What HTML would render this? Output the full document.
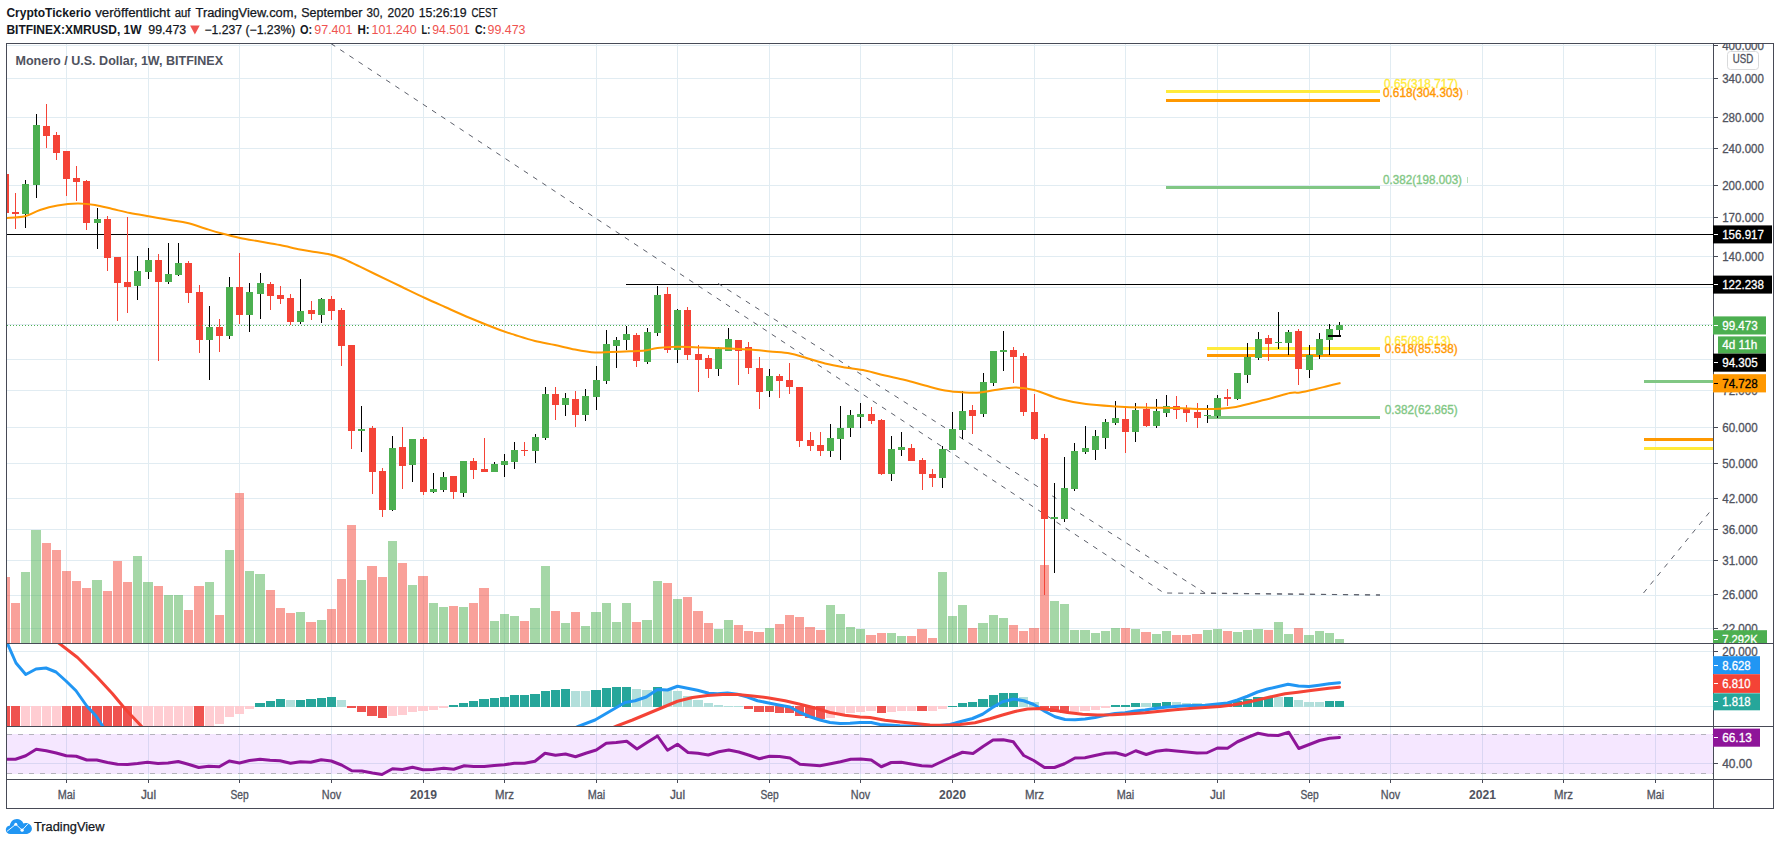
<!DOCTYPE html>
<html lang="de"><head><meta charset="utf-8"><title>XMRUSD 1W – TradingView</title>
<style>html,body{margin:0;padding:0;background:#fff}svg{display:block}</style></head>
<body>
<svg width="1780" height="845" viewBox="0 0 1780 845" font-family='"Liberation Sans", sans-serif'>
<rect width="1780" height="845" fill="#fff"/>
<defs>
<clipPath id="cm"><rect x="7" y="44" width="1706" height="599"/></clipPath>
<clipPath id="cd"><rect x="7" y="644" width="1706" height="82"/></clipPath>
<clipPath id="cr"><rect x="7" y="727" width="1706" height="52"/></clipPath>
<clipPath id="ca"><rect x="1713" y="44" width="59" height="599"/></clipPath>
<clipPath id="ca2"><rect x="1713" y="644" width="59" height="82"/></clipPath>
</defs>
<text x="6.4" y="16.9" font-size="12" fill="#131722" font-weight="bold" textLength="84.6" lengthAdjust="spacingAndGlyphs">CryptoTickerio</text>
<text x="95.2" y="16.9" font-size="12" fill="#131722" stroke="#131722" stroke-width="0.25" textLength="75.0" lengthAdjust="spacingAndGlyphs">veröffentlicht</text>
<text x="174.8" y="16.9" font-size="12" fill="#131722" stroke="#131722" stroke-width="0.25" textLength="15.7" lengthAdjust="spacingAndGlyphs">auf</text>
<text x="195.5" y="16.9" font-size="12" fill="#131722" stroke="#131722" stroke-width="0.25" textLength="101.5" lengthAdjust="spacingAndGlyphs">TradingView.com,</text>
<text x="301.3" y="16.9" font-size="12" fill="#131722" stroke="#131722" stroke-width="0.25" textLength="61.0" lengthAdjust="spacingAndGlyphs">September</text>
<text x="366.5" y="16.9" font-size="12" fill="#131722" stroke="#131722" stroke-width="0.25" textLength="16.2" lengthAdjust="spacingAndGlyphs">30,</text>
<text x="387.6" y="16.9" font-size="12" fill="#131722" stroke="#131722" stroke-width="0.25" textLength="26.6" lengthAdjust="spacingAndGlyphs">2020</text>
<text x="418.8" y="16.9" font-size="12" fill="#131722" stroke="#131722" stroke-width="0.25" textLength="47.7" lengthAdjust="spacingAndGlyphs">15:26:19</text>
<text x="471.5" y="16.9" font-size="12" fill="#131722" stroke="#131722" stroke-width="0.25" textLength="25.8" lengthAdjust="spacingAndGlyphs">CEST</text>
<text x="6.4" y="33.7" font-size="12" fill="#131722" font-weight="bold" textLength="135.2" lengthAdjust="spacingAndGlyphs">BITFINEX:XMRUSD, 1W</text>
<text x="148.3" y="33.7" font-size="12" fill="#131722" stroke="#131722" stroke-width="0.25" textLength="37.9" lengthAdjust="spacingAndGlyphs">99.473</text>
<path d="M190.1 25.6h9.6l-4.8 9z" fill="#ef5350"/>
<text x="204.4" y="33.7" font-size="12" fill="#131722" stroke="#131722" stroke-width="0.25" textLength="91" lengthAdjust="spacingAndGlyphs">−1.237 (−1.23%)</text>
<text x="300" y="33.7" font-size="12" fill="#131722" font-weight="bold" textLength="12.2" lengthAdjust="spacingAndGlyphs">O:</text>
<text x="314.3" y="33.7" font-size="12" fill="#ef5350" textLength="38.1" lengthAdjust="spacingAndGlyphs">97.401</text>
<text x="357.4" y="33.7" font-size="12" fill="#131722" font-weight="bold" textLength="12.2" lengthAdjust="spacingAndGlyphs">H:</text>
<text x="371.6" y="33.7" font-size="12" fill="#ef5350" textLength="45.1" lengthAdjust="spacingAndGlyphs">101.240</text>
<text x="421.5" y="33.7" font-size="12" fill="#131722" font-weight="bold" textLength="8.7" lengthAdjust="spacingAndGlyphs">L:</text>
<text x="432.3" y="33.7" font-size="12" fill="#ef5350" textLength="37.5" lengthAdjust="spacingAndGlyphs">94.501</text>
<text x="474.9" y="33.7" font-size="12" fill="#131722" font-weight="bold" textLength="11" lengthAdjust="spacingAndGlyphs">C:</text>
<text x="487.5" y="33.7" font-size="12" fill="#ef5350" textLength="38" lengthAdjust="spacingAndGlyphs">99.473</text>
<g shape-rendering="crispEdges">
<rect x="7" y="45" width="1706" height="1" fill="#e1ecf2"/>
<rect x="7" y="78" width="1706" height="1" fill="#e1ecf2"/>
<rect x="7" y="117" width="1706" height="1" fill="#e1ecf2"/>
<rect x="7" y="148" width="1706" height="1" fill="#e1ecf2"/>
<rect x="7" y="185" width="1706" height="1" fill="#e1ecf2"/>
<rect x="7" y="217" width="1706" height="1" fill="#e1ecf2"/>
<rect x="7" y="256" width="1706" height="1" fill="#e1ecf2"/>
<rect x="7" y="287" width="1706" height="1" fill="#e1ecf2"/>
<rect x="7" y="324" width="1706" height="1" fill="#e1ecf2"/>
<rect x="7" y="359" width="1706" height="1" fill="#e1ecf2"/>
<rect x="7" y="390" width="1706" height="1" fill="#e1ecf2"/>
<rect x="7" y="427" width="1706" height="1" fill="#e1ecf2"/>
<rect x="7" y="463" width="1706" height="1" fill="#e1ecf2"/>
<rect x="7" y="498" width="1706" height="1" fill="#e1ecf2"/>
<rect x="7" y="529" width="1706" height="1" fill="#e1ecf2"/>
<rect x="7" y="560" width="1706" height="1" fill="#e1ecf2"/>
<rect x="7" y="595" width="1706" height="1" fill="#e1ecf2"/>
<rect x="7" y="628" width="1706" height="1" fill="#e1ecf2"/>
<rect x="7" y="651" width="1706" height="1" fill="#e1ecf2"/>
<rect x="7" y="706" width="1706" height="1" fill="#e1ecf2"/>
<rect x="7" y="763" width="1706" height="1" fill="#e1ecf2"/>
<rect x="66" y="44" width="1" height="735" fill="#e1ecf2"/>
<rect x="148" y="44" width="1" height="735" fill="#e1ecf2"/>
<rect x="239" y="44" width="1" height="735" fill="#e1ecf2"/>
<rect x="331" y="44" width="1" height="735" fill="#e1ecf2"/>
<rect x="423" y="44" width="1" height="735" fill="#e1ecf2"/>
<rect x="504" y="44" width="1" height="735" fill="#e1ecf2"/>
<rect x="596" y="44" width="1" height="735" fill="#e1ecf2"/>
<rect x="677" y="44" width="1" height="735" fill="#e1ecf2"/>
<rect x="769" y="44" width="1" height="735" fill="#e1ecf2"/>
<rect x="860" y="44" width="1" height="735" fill="#e1ecf2"/>
<rect x="952" y="44" width="1" height="735" fill="#e1ecf2"/>
<rect x="1034" y="44" width="1" height="735" fill="#e1ecf2"/>
<rect x="1125" y="44" width="1" height="735" fill="#e1ecf2"/>
<rect x="1217" y="44" width="1" height="735" fill="#e1ecf2"/>
<rect x="1309" y="44" width="1" height="735" fill="#e1ecf2"/>
<rect x="1390" y="44" width="1" height="735" fill="#e1ecf2"/>
<rect x="1482" y="44" width="1" height="735" fill="#e1ecf2"/>
<rect x="1563" y="44" width="1" height="735" fill="#e1ecf2"/>
<rect x="1655" y="44" width="1" height="735" fill="#e1ecf2"/>
</g>
<rect x="7" y="734" width="1706" height="40" fill="#9915ff" fill-opacity="0.1"/>
<g stroke="#b4b2bc" stroke-width="1" stroke-dasharray="5 6" shape-rendering="crispEdges">
<line x1="7" y1="734.5" x2="1713" y2="734.5"/><line x1="7" y1="773.5" x2="1713" y2="773.5"/></g>
<g clip-path="url(#cm)">
<g shape-rendering="crispEdges" fill-opacity="0.5">
<rect x="1" y="577" width="9" height="66" fill="#f44336"/>
<rect x="11" y="603" width="9" height="40" fill="#f44336"/>
<rect x="21" y="572" width="9" height="71" fill="#4caf50"/>
<rect x="31" y="530" width="10" height="113" fill="#4caf50"/>
<rect x="42" y="543" width="9" height="100" fill="#f44336"/>
<rect x="52" y="550" width="9" height="93" fill="#f44336"/>
<rect x="62" y="571" width="9" height="72" fill="#f44336"/>
<rect x="72" y="581" width="9" height="62" fill="#f44336"/>
<rect x="82" y="588" width="9" height="55" fill="#f44336"/>
<rect x="92" y="580" width="10" height="63" fill="#4caf50"/>
<rect x="103" y="591" width="9" height="52" fill="#f44336"/>
<rect x="113" y="561" width="9" height="82" fill="#f44336"/>
<rect x="123" y="582" width="9" height="61" fill="#f44336"/>
<rect x="133" y="556" width="9" height="87" fill="#4caf50"/>
<rect x="143" y="582" width="10" height="61" fill="#4caf50"/>
<rect x="154" y="586" width="9" height="57" fill="#f44336"/>
<rect x="164" y="595" width="9" height="48" fill="#4caf50"/>
<rect x="174" y="595" width="9" height="48" fill="#4caf50"/>
<rect x="184" y="610" width="9" height="33" fill="#f44336"/>
<rect x="194" y="586" width="10" height="57" fill="#f44336"/>
<rect x="205" y="582" width="9" height="61" fill="#4caf50"/>
<rect x="215" y="615" width="9" height="28" fill="#f44336"/>
<rect x="225" y="550" width="9" height="93" fill="#4caf50"/>
<rect x="235" y="493" width="9" height="150" fill="#f44336"/>
<rect x="245" y="571" width="9" height="72" fill="#4caf50"/>
<rect x="255" y="574" width="10" height="69" fill="#4caf50"/>
<rect x="266" y="590" width="9" height="53" fill="#f44336"/>
<rect x="276" y="608" width="9" height="35" fill="#f44336"/>
<rect x="286" y="613" width="9" height="30" fill="#f44336"/>
<rect x="296" y="612" width="9" height="31" fill="#4caf50"/>
<rect x="306" y="622" width="10" height="21" fill="#f44336"/>
<rect x="317" y="620" width="9" height="23" fill="#4caf50"/>
<rect x="327" y="609" width="9" height="34" fill="#f44336"/>
<rect x="337" y="579" width="9" height="64" fill="#f44336"/>
<rect x="347" y="525" width="9" height="118" fill="#f44336"/>
<rect x="357" y="580" width="9" height="63" fill="#4caf50"/>
<rect x="367" y="566" width="10" height="77" fill="#f44336"/>
<rect x="378" y="577" width="9" height="66" fill="#f44336"/>
<rect x="388" y="541" width="9" height="102" fill="#4caf50"/>
<rect x="398" y="563" width="9" height="80" fill="#f44336"/>
<rect x="408" y="585" width="9" height="58" fill="#4caf50"/>
<rect x="418" y="576" width="10" height="67" fill="#f44336"/>
<rect x="429" y="603" width="9" height="40" fill="#4caf50"/>
<rect x="439" y="607" width="9" height="36" fill="#4caf50"/>
<rect x="449" y="606" width="9" height="37" fill="#f44336"/>
<rect x="459" y="607" width="9" height="36" fill="#4caf50"/>
<rect x="469" y="603" width="9" height="40" fill="#f44336"/>
<rect x="479" y="588" width="10" height="55" fill="#f44336"/>
<rect x="490" y="621" width="9" height="22" fill="#4caf50"/>
<rect x="500" y="614" width="9" height="29" fill="#4caf50"/>
<rect x="510" y="616" width="9" height="27" fill="#4caf50"/>
<rect x="520" y="621" width="9" height="22" fill="#f44336"/>
<rect x="530" y="608" width="10" height="35" fill="#4caf50"/>
<rect x="541" y="566" width="9" height="77" fill="#4caf50"/>
<rect x="551" y="611" width="9" height="32" fill="#f44336"/>
<rect x="561" y="623" width="9" height="20" fill="#4caf50"/>
<rect x="571" y="612" width="9" height="31" fill="#f44336"/>
<rect x="581" y="626" width="9" height="17" fill="#4caf50"/>
<rect x="591" y="612" width="10" height="31" fill="#4caf50"/>
<rect x="602" y="603" width="9" height="40" fill="#4caf50"/>
<rect x="612" y="622" width="9" height="21" fill="#4caf50"/>
<rect x="622" y="603" width="9" height="40" fill="#4caf50"/>
<rect x="632" y="622" width="9" height="21" fill="#f44336"/>
<rect x="642" y="620" width="10" height="23" fill="#4caf50"/>
<rect x="653" y="581" width="9" height="62" fill="#4caf50"/>
<rect x="663" y="583" width="9" height="60" fill="#f44336"/>
<rect x="673" y="599" width="9" height="44" fill="#4caf50"/>
<rect x="683" y="597" width="9" height="46" fill="#f44336"/>
<rect x="693" y="611" width="10" height="32" fill="#f44336"/>
<rect x="704" y="623" width="9" height="20" fill="#f44336"/>
<rect x="714" y="629" width="9" height="14" fill="#4caf50"/>
<rect x="724" y="620" width="9" height="23" fill="#4caf50"/>
<rect x="734" y="625" width="9" height="18" fill="#f44336"/>
<rect x="744" y="631" width="9" height="12" fill="#f44336"/>
<rect x="754" y="632" width="10" height="11" fill="#f44336"/>
<rect x="765" y="628" width="9" height="15" fill="#4caf50"/>
<rect x="775" y="624" width="9" height="19" fill="#f44336"/>
<rect x="785" y="615" width="9" height="28" fill="#f44336"/>
<rect x="795" y="617" width="9" height="26" fill="#f44336"/>
<rect x="805" y="627" width="10" height="16" fill="#f44336"/>
<rect x="816" y="630" width="9" height="13" fill="#f44336"/>
<rect x="826" y="605" width="9" height="38" fill="#4caf50"/>
<rect x="836" y="614" width="9" height="29" fill="#4caf50"/>
<rect x="846" y="627" width="9" height="16" fill="#4caf50"/>
<rect x="856" y="629" width="9" height="14" fill="#4caf50"/>
<rect x="866" y="635" width="10" height="8" fill="#f44336"/>
<rect x="877" y="633" width="9" height="10" fill="#f44336"/>
<rect x="887" y="633" width="9" height="10" fill="#4caf50"/>
<rect x="897" y="636" width="9" height="7" fill="#4caf50"/>
<rect x="907" y="636" width="9" height="7" fill="#f44336"/>
<rect x="917" y="629" width="10" height="14" fill="#f44336"/>
<rect x="928" y="638" width="9" height="5" fill="#f44336"/>
<rect x="938" y="572" width="9" height="71" fill="#4caf50"/>
<rect x="948" y="616" width="9" height="27" fill="#4caf50"/>
<rect x="958" y="605" width="9" height="38" fill="#4caf50"/>
<rect x="968" y="628" width="9" height="15" fill="#f44336"/>
<rect x="978" y="623" width="10" height="20" fill="#4caf50"/>
<rect x="989" y="615" width="9" height="28" fill="#4caf50"/>
<rect x="999" y="618" width="9" height="25" fill="#4caf50"/>
<rect x="1009" y="625" width="9" height="18" fill="#f44336"/>
<rect x="1019" y="631" width="9" height="12" fill="#f44336"/>
<rect x="1029" y="628" width="10" height="15" fill="#f44336"/>
<rect x="1040" y="565" width="9" height="78" fill="#f44336"/>
<rect x="1050" y="601" width="9" height="42" fill="#4caf50"/>
<rect x="1060" y="604" width="9" height="39" fill="#4caf50"/>
<rect x="1070" y="630" width="9" height="13" fill="#4caf50"/>
<rect x="1080" y="630" width="10" height="13" fill="#4caf50"/>
<rect x="1091" y="633" width="9" height="10" fill="#4caf50"/>
<rect x="1101" y="631" width="9" height="12" fill="#4caf50"/>
<rect x="1111" y="628" width="9" height="15" fill="#4caf50"/>
<rect x="1121" y="628" width="9" height="15" fill="#f44336"/>
<rect x="1131" y="629" width="9" height="14" fill="#4caf50"/>
<rect x="1141" y="632" width="10" height="11" fill="#f44336"/>
<rect x="1152" y="634" width="9" height="9" fill="#4caf50"/>
<rect x="1162" y="631" width="9" height="12" fill="#4caf50"/>
<rect x="1172" y="635" width="9" height="8" fill="#f44336"/>
<rect x="1182" y="635" width="9" height="8" fill="#f44336"/>
<rect x="1192" y="634" width="10" height="9" fill="#f44336"/>
<rect x="1203" y="630" width="9" height="13" fill="#4caf50"/>
<rect x="1213" y="629" width="9" height="14" fill="#4caf50"/>
<rect x="1223" y="631" width="9" height="12" fill="#f44336"/>
<rect x="1233" y="632" width="9" height="11" fill="#4caf50"/>
<rect x="1243" y="630" width="9" height="13" fill="#4caf50"/>
<rect x="1253" y="629" width="10" height="14" fill="#4caf50"/>
<rect x="1264" y="630" width="9" height="13" fill="#f44336"/>
<rect x="1274" y="622" width="9" height="21" fill="#4caf50"/>
<rect x="1284" y="634" width="9" height="9" fill="#4caf50"/>
<rect x="1294" y="628" width="9" height="15" fill="#f44336"/>
<rect x="1304" y="635" width="10" height="8" fill="#4caf50"/>
<rect x="1315" y="631" width="9" height="12" fill="#4caf50"/>
<rect x="1325" y="633" width="9" height="10" fill="#4caf50"/>
<rect x="1335" y="639" width="9" height="4" fill="#4caf50"/>
</g>
<g shape-rendering="crispEdges">
<rect x="1166" y="90" width="214" height="3" fill="#ffeb3b"/>
<rect x="1166" y="99" width="214" height="3" fill="#ff9800"/>
<rect x="1166" y="186" width="214" height="3" fill="#81c784"/>
<rect x="1207" y="347" width="173" height="3" fill="#ffeb3b"/>
<rect x="1207" y="354" width="173" height="3" fill="#ff9800"/>
<rect x="1207" y="416" width="173" height="3" fill="#81c784"/>
<rect x="1644" y="380" width="69" height="3" fill="#81c784"/>
<rect x="1644" y="438" width="69" height="3" fill="#ff9800"/>
<rect x="1644" y="447" width="69" height="3" fill="#ffeb3b"/>
</g>
<g shape-rendering="crispEdges">
<rect x="7" y="234" width="1706" height="1" fill="#000"/>
<rect x="626" y="284" width="1087" height="1" fill="#000"/>
</g>
<g stroke="#5d606b" stroke-width="1" stroke-dasharray="5 6" fill="none">
<path d="M331 43.6L1164 593L1380 595"/>
<path d="M718 283.4L1205 593L1380 595"/>
<path d="M1643.5 593L1711 510.4"/>
</g>
<g shape-rendering="crispEdges">
<rect x="5" y="174" width="1" height="39" fill="#f44336"/>
<rect x="2" y="174" width="7" height="39" fill="#f44336"/>
<rect x="15" y="193" width="1" height="36" fill="#f44336"/>
<rect x="12" y="212" width="7" height="2" fill="#f44336"/>
<rect x="25" y="180" width="1" height="48" fill="#000"/>
<rect x="22" y="184" width="7" height="30" fill="#4caf50"/>
<rect x="36" y="114" width="1" height="84" fill="#000"/>
<rect x="33" y="125" width="7" height="60" fill="#4caf50"/>
<rect x="46" y="104" width="1" height="44" fill="#f44336"/>
<rect x="43" y="126" width="7" height="10" fill="#f44336"/>
<rect x="56" y="132" width="1" height="28" fill="#f44336"/>
<rect x="53" y="135" width="7" height="18" fill="#f44336"/>
<rect x="66" y="151" width="1" height="45" fill="#f44336"/>
<rect x="63" y="151" width="7" height="28" fill="#f44336"/>
<rect x="76" y="166" width="1" height="35" fill="#f44336"/>
<rect x="73" y="178" width="7" height="4" fill="#f44336"/>
<rect x="86" y="180" width="1" height="50" fill="#f44336"/>
<rect x="83" y="181" width="7" height="42" fill="#f44336"/>
<rect x="97" y="208" width="1" height="41" fill="#000"/>
<rect x="94" y="219" width="7" height="4" fill="#4caf50"/>
<rect x="107" y="216" width="1" height="55" fill="#f44336"/>
<rect x="104" y="219" width="7" height="39" fill="#f44336"/>
<rect x="117" y="257" width="1" height="64" fill="#f44336"/>
<rect x="114" y="257" width="7" height="26" fill="#f44336"/>
<rect x="127" y="217" width="1" height="96" fill="#f44336"/>
<rect x="124" y="282" width="7" height="5" fill="#f44336"/>
<rect x="137" y="256" width="1" height="44" fill="#000"/>
<rect x="134" y="271" width="7" height="15" fill="#4caf50"/>
<rect x="148" y="248" width="1" height="31" fill="#000"/>
<rect x="145" y="260" width="7" height="12" fill="#4caf50"/>
<rect x="158" y="254" width="1" height="107" fill="#f44336"/>
<rect x="155" y="260" width="7" height="22" fill="#f44336"/>
<rect x="168" y="243" width="1" height="41" fill="#000"/>
<rect x="165" y="274" width="7" height="8" fill="#4caf50"/>
<rect x="178" y="243" width="1" height="33" fill="#000"/>
<rect x="175" y="263" width="7" height="12" fill="#4caf50"/>
<rect x="188" y="261" width="1" height="42" fill="#f44336"/>
<rect x="185" y="263" width="7" height="30" fill="#f44336"/>
<rect x="199" y="285" width="1" height="68" fill="#f44336"/>
<rect x="196" y="292" width="7" height="48" fill="#f44336"/>
<rect x="209" y="306" width="1" height="74" fill="#000"/>
<rect x="206" y="327" width="7" height="13" fill="#4caf50"/>
<rect x="219" y="319" width="1" height="33" fill="#f44336"/>
<rect x="216" y="327" width="7" height="9" fill="#f44336"/>
<rect x="229" y="277" width="1" height="62" fill="#000"/>
<rect x="226" y="287" width="7" height="49" fill="#4caf50"/>
<rect x="239" y="253" width="1" height="71" fill="#f44336"/>
<rect x="236" y="287" width="7" height="28" fill="#f44336"/>
<rect x="249" y="283" width="1" height="49" fill="#000"/>
<rect x="246" y="292" width="7" height="23" fill="#4caf50"/>
<rect x="260" y="273" width="1" height="46" fill="#000"/>
<rect x="257" y="283" width="7" height="11" fill="#4caf50"/>
<rect x="270" y="282" width="1" height="28" fill="#f44336"/>
<rect x="267" y="284" width="7" height="12" fill="#f44336"/>
<rect x="280" y="286" width="1" height="18" fill="#f44336"/>
<rect x="277" y="295" width="7" height="4" fill="#f44336"/>
<rect x="290" y="294" width="1" height="31" fill="#f44336"/>
<rect x="287" y="298" width="7" height="24" fill="#f44336"/>
<rect x="300" y="279" width="1" height="45" fill="#000"/>
<rect x="297" y="311" width="7" height="11" fill="#4caf50"/>
<rect x="311" y="301" width="1" height="19" fill="#f44336"/>
<rect x="308" y="310" width="7" height="4" fill="#f44336"/>
<rect x="321" y="298" width="1" height="25" fill="#000"/>
<rect x="318" y="299" width="7" height="16" fill="#4caf50"/>
<rect x="331" y="296" width="1" height="24" fill="#f44336"/>
<rect x="328" y="299" width="7" height="12" fill="#f44336"/>
<rect x="341" y="308" width="1" height="58" fill="#f44336"/>
<rect x="338" y="310" width="7" height="36" fill="#f44336"/>
<rect x="351" y="345" width="1" height="104" fill="#f44336"/>
<rect x="348" y="345" width="7" height="86" fill="#f44336"/>
<rect x="361" y="406" width="1" height="46" fill="#000"/>
<rect x="358" y="429" width="7" height="2" fill="#4caf50"/>
<rect x="372" y="426" width="1" height="68" fill="#f44336"/>
<rect x="369" y="428" width="7" height="44" fill="#f44336"/>
<rect x="382" y="468" width="1" height="49" fill="#f44336"/>
<rect x="379" y="471" width="7" height="39" fill="#f44336"/>
<rect x="392" y="436" width="1" height="75" fill="#000"/>
<rect x="389" y="448" width="7" height="62" fill="#4caf50"/>
<rect x="402" y="427" width="1" height="62" fill="#f44336"/>
<rect x="399" y="447" width="7" height="19" fill="#f44336"/>
<rect x="412" y="439" width="1" height="43" fill="#000"/>
<rect x="409" y="439" width="7" height="26" fill="#4caf50"/>
<rect x="423" y="437" width="1" height="58" fill="#f44336"/>
<rect x="420" y="439" width="7" height="53" fill="#f44336"/>
<rect x="433" y="473" width="1" height="20" fill="#000"/>
<rect x="430" y="489" width="7" height="3" fill="#4caf50"/>
<rect x="443" y="472" width="1" height="20" fill="#000"/>
<rect x="440" y="477" width="7" height="13" fill="#4caf50"/>
<rect x="453" y="476" width="1" height="23" fill="#f44336"/>
<rect x="450" y="476" width="7" height="16" fill="#f44336"/>
<rect x="463" y="461" width="1" height="36" fill="#000"/>
<rect x="460" y="461" width="7" height="32" fill="#4caf50"/>
<rect x="473" y="458" width="1" height="21" fill="#f44336"/>
<rect x="470" y="461" width="7" height="9" fill="#f44336"/>
<rect x="484" y="438" width="1" height="34" fill="#f44336"/>
<rect x="481" y="469" width="7" height="3" fill="#f44336"/>
<rect x="494" y="462" width="1" height="10" fill="#000"/>
<rect x="491" y="464" width="7" height="8" fill="#4caf50"/>
<rect x="504" y="454" width="1" height="23" fill="#000"/>
<rect x="501" y="461" width="7" height="4" fill="#4caf50"/>
<rect x="514" y="442" width="1" height="27" fill="#000"/>
<rect x="511" y="450" width="7" height="12" fill="#4caf50"/>
<rect x="524" y="442" width="1" height="14" fill="#f44336"/>
<rect x="521" y="450" width="7" height="1" fill="#f44336"/>
<rect x="535" y="434" width="1" height="29" fill="#000"/>
<rect x="532" y="437" width="7" height="14" fill="#4caf50"/>
<rect x="545" y="387" width="1" height="53" fill="#000"/>
<rect x="542" y="394" width="7" height="44" fill="#4caf50"/>
<rect x="555" y="387" width="1" height="33" fill="#f44336"/>
<rect x="552" y="394" width="7" height="11" fill="#f44336"/>
<rect x="565" y="393" width="1" height="23" fill="#000"/>
<rect x="562" y="398" width="7" height="7" fill="#4caf50"/>
<rect x="575" y="391" width="1" height="36" fill="#f44336"/>
<rect x="572" y="399" width="7" height="16" fill="#f44336"/>
<rect x="585" y="389" width="1" height="32" fill="#000"/>
<rect x="582" y="396" width="7" height="19" fill="#4caf50"/>
<rect x="596" y="366" width="1" height="44" fill="#000"/>
<rect x="593" y="380" width="7" height="17" fill="#4caf50"/>
<rect x="606" y="330" width="1" height="54" fill="#000"/>
<rect x="603" y="344" width="7" height="37" fill="#4caf50"/>
<rect x="616" y="337" width="1" height="31" fill="#000"/>
<rect x="613" y="340" width="7" height="6" fill="#4caf50"/>
<rect x="626" y="326" width="1" height="24" fill="#000"/>
<rect x="623" y="334" width="7" height="6" fill="#4caf50"/>
<rect x="636" y="333" width="1" height="34" fill="#f44336"/>
<rect x="633" y="335" width="7" height="26" fill="#f44336"/>
<rect x="647" y="328" width="1" height="36" fill="#000"/>
<rect x="644" y="332" width="7" height="30" fill="#4caf50"/>
<rect x="657" y="286" width="1" height="50" fill="#000"/>
<rect x="654" y="295" width="7" height="38" fill="#4caf50"/>
<rect x="667" y="287" width="1" height="66" fill="#f44336"/>
<rect x="664" y="294" width="7" height="56" fill="#f44336"/>
<rect x="677" y="309" width="1" height="54" fill="#000"/>
<rect x="674" y="310" width="7" height="40" fill="#4caf50"/>
<rect x="687" y="307" width="1" height="53" fill="#f44336"/>
<rect x="684" y="310" width="7" height="45" fill="#f44336"/>
<rect x="698" y="345" width="1" height="47" fill="#f44336"/>
<rect x="695" y="354" width="7" height="6" fill="#f44336"/>
<rect x="708" y="355" width="1" height="23" fill="#f44336"/>
<rect x="705" y="358" width="7" height="11" fill="#f44336"/>
<rect x="718" y="347" width="1" height="29" fill="#000"/>
<rect x="715" y="348" width="7" height="21" fill="#4caf50"/>
<rect x="728" y="328" width="1" height="23" fill="#000"/>
<rect x="725" y="339" width="7" height="12" fill="#4caf50"/>
<rect x="738" y="340" width="1" height="45" fill="#f44336"/>
<rect x="735" y="340" width="7" height="11" fill="#f44336"/>
<rect x="748" y="342" width="1" height="32" fill="#f44336"/>
<rect x="745" y="347" width="7" height="21" fill="#f44336"/>
<rect x="759" y="357" width="1" height="52" fill="#f44336"/>
<rect x="756" y="368" width="7" height="24" fill="#f44336"/>
<rect x="769" y="369" width="1" height="28" fill="#000"/>
<rect x="766" y="376" width="7" height="15" fill="#4caf50"/>
<rect x="779" y="374" width="1" height="24" fill="#f44336"/>
<rect x="776" y="376" width="7" height="5" fill="#f44336"/>
<rect x="789" y="363" width="1" height="31" fill="#f44336"/>
<rect x="786" y="380" width="7" height="7" fill="#f44336"/>
<rect x="799" y="387" width="1" height="60" fill="#f44336"/>
<rect x="796" y="387" width="7" height="54" fill="#f44336"/>
<rect x="810" y="432" width="1" height="19" fill="#f44336"/>
<rect x="807" y="440" width="7" height="6" fill="#f44336"/>
<rect x="820" y="432" width="1" height="24" fill="#f44336"/>
<rect x="817" y="445" width="7" height="6" fill="#f44336"/>
<rect x="830" y="424" width="1" height="33" fill="#000"/>
<rect x="827" y="438" width="7" height="13" fill="#4caf50"/>
<rect x="840" y="406" width="1" height="54" fill="#000"/>
<rect x="837" y="428" width="7" height="11" fill="#4caf50"/>
<rect x="850" y="410" width="1" height="27" fill="#000"/>
<rect x="847" y="415" width="7" height="13" fill="#4caf50"/>
<rect x="860" y="403" width="1" height="25" fill="#000"/>
<rect x="857" y="414" width="7" height="3" fill="#4caf50"/>
<rect x="871" y="407" width="1" height="17" fill="#f44336"/>
<rect x="868" y="414" width="7" height="7" fill="#f44336"/>
<rect x="881" y="419" width="1" height="56" fill="#f44336"/>
<rect x="878" y="420" width="7" height="54" fill="#f44336"/>
<rect x="891" y="436" width="1" height="45" fill="#000"/>
<rect x="888" y="449" width="7" height="25" fill="#4caf50"/>
<rect x="901" y="432" width="1" height="24" fill="#000"/>
<rect x="898" y="447" width="7" height="3" fill="#4caf50"/>
<rect x="911" y="444" width="1" height="17" fill="#f44336"/>
<rect x="908" y="448" width="7" height="13" fill="#f44336"/>
<rect x="922" y="458" width="1" height="32" fill="#f44336"/>
<rect x="919" y="460" width="7" height="14" fill="#f44336"/>
<rect x="932" y="469" width="1" height="18" fill="#f44336"/>
<rect x="929" y="474" width="7" height="4" fill="#f44336"/>
<rect x="942" y="446" width="1" height="42" fill="#000"/>
<rect x="939" y="449" width="7" height="29" fill="#4caf50"/>
<rect x="952" y="412" width="1" height="38" fill="#000"/>
<rect x="949" y="429" width="7" height="21" fill="#4caf50"/>
<rect x="962" y="391" width="1" height="48" fill="#000"/>
<rect x="959" y="411" width="7" height="19" fill="#4caf50"/>
<rect x="972" y="405" width="1" height="29" fill="#f44336"/>
<rect x="969" y="410" width="7" height="6" fill="#f44336"/>
<rect x="983" y="373" width="1" height="44" fill="#000"/>
<rect x="980" y="382" width="7" height="32" fill="#4caf50"/>
<rect x="993" y="351" width="1" height="35" fill="#000"/>
<rect x="990" y="351" width="7" height="32" fill="#4caf50"/>
<rect x="1003" y="331" width="1" height="40" fill="#000"/>
<rect x="1000" y="350" width="7" height="2" fill="#4caf50"/>
<rect x="1013" y="347" width="1" height="36" fill="#f44336"/>
<rect x="1010" y="350" width="7" height="7" fill="#f44336"/>
<rect x="1023" y="353" width="1" height="63" fill="#f44336"/>
<rect x="1020" y="356" width="7" height="56" fill="#f44336"/>
<rect x="1034" y="394" width="1" height="46" fill="#f44336"/>
<rect x="1031" y="412" width="7" height="27" fill="#f44336"/>
<rect x="1044" y="434" width="1" height="161" fill="#f44336"/>
<rect x="1041" y="438" width="7" height="81" fill="#f44336"/>
<rect x="1054" y="483" width="1" height="90" fill="#000"/>
<rect x="1051" y="517" width="7" height="2" fill="#4caf50"/>
<rect x="1064" y="457" width="1" height="65" fill="#000"/>
<rect x="1061" y="488" width="7" height="31" fill="#4caf50"/>
<rect x="1074" y="443" width="1" height="48" fill="#000"/>
<rect x="1071" y="451" width="7" height="38" fill="#4caf50"/>
<rect x="1085" y="426" width="1" height="28" fill="#000"/>
<rect x="1082" y="448" width="7" height="4" fill="#4caf50"/>
<rect x="1095" y="430" width="1" height="30" fill="#000"/>
<rect x="1092" y="436" width="7" height="14" fill="#4caf50"/>
<rect x="1105" y="419" width="1" height="30" fill="#000"/>
<rect x="1102" y="422" width="7" height="16" fill="#4caf50"/>
<rect x="1115" y="401" width="1" height="24" fill="#000"/>
<rect x="1112" y="418" width="7" height="5" fill="#4caf50"/>
<rect x="1125" y="408" width="1" height="45" fill="#f44336"/>
<rect x="1122" y="419" width="7" height="13" fill="#f44336"/>
<rect x="1135" y="403" width="1" height="39" fill="#000"/>
<rect x="1132" y="410" width="7" height="22" fill="#4caf50"/>
<rect x="1146" y="403" width="1" height="24" fill="#f44336"/>
<rect x="1143" y="409" width="7" height="17" fill="#f44336"/>
<rect x="1156" y="399" width="1" height="29" fill="#000"/>
<rect x="1153" y="411" width="7" height="15" fill="#4caf50"/>
<rect x="1166" y="395" width="1" height="22" fill="#000"/>
<rect x="1163" y="406" width="7" height="7" fill="#4caf50"/>
<rect x="1176" y="396" width="1" height="23" fill="#f44336"/>
<rect x="1173" y="406" width="7" height="4" fill="#f44336"/>
<rect x="1186" y="405" width="1" height="17" fill="#f44336"/>
<rect x="1183" y="409" width="7" height="4" fill="#f44336"/>
<rect x="1197" y="403" width="1" height="25" fill="#f44336"/>
<rect x="1194" y="412" width="7" height="6" fill="#f44336"/>
<rect x="1207" y="405" width="1" height="18" fill="#000"/>
<rect x="1204" y="415" width="7" height="1" fill="#4caf50"/>
<rect x="1217" y="395" width="1" height="23" fill="#000"/>
<rect x="1214" y="398" width="7" height="18" fill="#4caf50"/>
<rect x="1227" y="389" width="1" height="17" fill="#f44336"/>
<rect x="1224" y="397" width="7" height="2" fill="#f44336"/>
<rect x="1237" y="373" width="1" height="27" fill="#000"/>
<rect x="1234" y="373" width="7" height="26" fill="#4caf50"/>
<rect x="1247" y="343" width="1" height="40" fill="#000"/>
<rect x="1244" y="357" width="7" height="18" fill="#4caf50"/>
<rect x="1258" y="332" width="1" height="28" fill="#000"/>
<rect x="1255" y="339" width="7" height="19" fill="#4caf50"/>
<rect x="1268" y="335" width="1" height="26" fill="#f44336"/>
<rect x="1265" y="338" width="7" height="6" fill="#f44336"/>
<rect x="1278" y="312" width="1" height="37" fill="#000"/>
<rect x="1275" y="342" width="7" height="1" fill="#4caf50"/>
<rect x="1288" y="330" width="1" height="25" fill="#000"/>
<rect x="1285" y="332" width="7" height="11" fill="#4caf50"/>
<rect x="1298" y="329" width="1" height="56" fill="#f44336"/>
<rect x="1295" y="331" width="7" height="38" fill="#f44336"/>
<rect x="1309" y="345" width="1" height="33" fill="#000"/>
<rect x="1306" y="355" width="7" height="15" fill="#4caf50"/>
<rect x="1319" y="333" width="1" height="26" fill="#000"/>
<rect x="1316" y="339" width="7" height="16" fill="#4caf50"/>
<rect x="1329" y="324" width="1" height="31" fill="#000"/>
<rect x="1326" y="329" width="7" height="11" fill="#4caf50"/>
<rect x="1339" y="322" width="1" height="14" fill="#000"/>
<rect x="1336" y="325" width="7" height="5" fill="#4caf50"/>
<rect x="1328" y="335" width="13" height="2" fill="#000"/>
</g>
<line x1="7" y1="325.5" x2="1713" y2="325.5" stroke="#4caf50" stroke-width="1" stroke-dasharray="1 2" shape-rendering="crispEdges"/>
<path d="M6.5 218C9.58 217.71 19.42 217.58 25 216.25C30.58 214.92 34.58 211.79 40 210C45.42 208.21 51.25 206.58 57.5 205.5C63.75 204.42 71.25 203.58 77.5 203.5C83.75 203.42 89.17 204.08 95 205C100.83 205.92 106.67 207.67 112.5 209C118.33 210.33 123.75 211.75 130 213C136.25 214.25 143.33 215.33 150 216.5C156.67 217.67 163.75 218.92 170 220C176.25 221.08 181.67 221.58 187.5 223C193.33 224.42 199.58 226.83 205 228.5C210.42 230.17 214.17 231.42 220 233C225.83 234.58 233.33 236.58 240 238C246.67 239.42 253.33 240.33 260 241.5C266.67 242.67 273.33 243.67 280 245C286.67 246.33 294.17 248.33 300 249.5C305.83 250.67 310.00 251.17 315 252C320.00 252.83 325.42 253.42 330 254.5C334.58 255.58 337.92 256.67 342.5 258.5C347.08 260.33 352.08 262.92 357.5 265.5C362.92 268.08 367.92 270.58 375 274C382.08 277.42 391.67 282.00 400 286C408.33 290.00 417.50 294.50 425 298C432.50 301.50 437.50 303.67 445 307C452.50 310.33 460.83 314.17 470 318C479.17 321.83 492.50 327.17 500 330C507.50 332.83 509.17 333.17 515 335C520.83 336.83 528.33 339.33 535 341C541.67 342.67 548.33 343.58 555 345C561.67 346.42 568.33 348.25 575 349.5C581.67 350.75 589.17 352.08 595 352.5C600.83 352.92 604.17 352.20 610 352C615.83 351.80 624.17 351.55 630 351.3C635.83 351.05 640.42 351.05 645 350.5C649.58 349.95 652.08 348.63 657.5 348C662.92 347.37 670.00 346.78 677.5 346.7C685.00 346.62 693.75 347.20 702.5 347.5C711.25 347.80 722.08 348.17 730 348.5C737.92 348.83 743.33 349.00 750 349.5C756.67 350.00 763.33 350.83 770 351.5C776.67 352.17 784.17 352.50 790 353.5C795.83 354.50 799.17 355.83 805 357.5C810.83 359.17 818.33 361.83 825 363.5C831.67 365.17 838.33 366.33 845 367.5C851.67 368.67 858.33 369.17 865 370.5C871.67 371.83 878.33 373.92 885 375.5C891.67 377.08 898.33 378.33 905 380C911.67 381.67 918.33 383.75 925 385.5C931.67 387.25 938.33 389.33 945 390.5C951.67 391.67 959.17 392.17 965 392.5C970.83 392.83 975.00 392.92 980 392.5C985.00 392.08 989.17 390.83 995 390C1000.83 389.17 1008.50 387.50 1015 387.5C1021.50 387.50 1026.50 388.08 1034 390C1041.50 391.92 1051.33 396.67 1060 399C1068.67 401.33 1076.67 402.77 1086 404C1095.33 405.23 1106.33 405.80 1116 406.4C1125.67 407.00 1134.00 407.33 1144 407.6C1154.00 407.87 1166.67 407.77 1176 408C1185.33 408.23 1192.67 408.87 1200 409C1207.33 409.13 1214.00 409.13 1220 408.8C1226.00 408.47 1230.67 407.97 1236 407C1241.33 406.03 1246.00 404.50 1252 403C1258.00 401.50 1265.67 399.67 1272 398C1278.33 396.33 1285.33 393.93 1290 393C1294.67 392.07 1295.67 393.07 1300 392.4C1304.33 391.73 1311.33 390.07 1316 389C1320.67 387.93 1323.92 387.00 1328 386C1332.08 385.00 1338.42 383.50 1340.5 383" fill="none" stroke="#ff9800" stroke-width="2" stroke-linejoin="round"/>
<text x="1384" y="87.8" font-size="12" fill="#ffeb3b" stroke="#ffeb3b" stroke-width="0.35" textLength="74" lengthAdjust="spacingAndGlyphs">0.65(318.717)</text>
<text x="1383" y="97.2" font-size="12" fill="#ff9800" stroke="#ff9800" stroke-width="0.35" textLength="80" lengthAdjust="spacingAndGlyphs">0.618(304.303)</text>
<text x="1383" y="183.8" font-size="12" fill="#81c784" stroke="#81c784" stroke-width="0.35" textLength="79" lengthAdjust="spacingAndGlyphs">0.382(198.003)</text>
<rect x="1467" y="90" width="1" height="5" fill="#ffd699"/>
<rect x="1467" y="177" width="1" height="6" fill="#b9e0bb"/>
<text x="1384.7" y="344.5" font-size="12" fill="#ffeb3b" stroke="#ffeb3b" stroke-width="0.35" textLength="66.2" lengthAdjust="spacingAndGlyphs">0.65(88.613)</text>
<text x="1384.7" y="352.6" font-size="12" fill="#ff9800" stroke="#ff9800" stroke-width="0.35" textLength="73" lengthAdjust="spacingAndGlyphs">0.618(85.538)</text>
<text x="1384.7" y="413.6" font-size="12" fill="#81c784" stroke="#81c784" stroke-width="0.35" textLength="73" lengthAdjust="spacingAndGlyphs">0.382(62.865)</text>
</g>
<text x="15.5" y="64.9" font-size="12" fill="#4f525e" font-weight="bold" textLength="207.6" lengthAdjust="spacingAndGlyphs">Monero / U.S. Dollar, 1W, BITFINEX</text>
<g clip-path="url(#cd)">
<g shape-rendering="crispEdges">
<rect x="1" y="706" width="9" height="21.0" fill="#ef5350"/>
<rect x="11" y="706" width="9" height="21.0" fill="#ef5350"/>
<rect x="21" y="706" width="9" height="21.0" fill="#ffcdd2"/>
<rect x="31" y="706" width="10" height="21.0" fill="#ffcdd2"/>
<rect x="42" y="706" width="9" height="21.0" fill="#ffcdd2"/>
<rect x="52" y="706" width="9" height="21.0" fill="#ffcdd2"/>
<rect x="62" y="706" width="9" height="21.0" fill="#ef5350"/>
<rect x="72" y="706" width="9" height="21.0" fill="#ef5350"/>
<rect x="82" y="706" width="9" height="21.0" fill="#ef5350"/>
<rect x="92" y="706" width="10" height="21.0" fill="#ef5350"/>
<rect x="103" y="706" width="9" height="21.0" fill="#ef5350"/>
<rect x="113" y="706" width="9" height="21.0" fill="#ef5350"/>
<rect x="123" y="706" width="9" height="21.0" fill="#ef5350"/>
<rect x="133" y="706" width="9" height="21.0" fill="#ffcdd2"/>
<rect x="143" y="706" width="10" height="21.0" fill="#ffcdd2"/>
<rect x="154" y="706" width="9" height="21.0" fill="#ffcdd2"/>
<rect x="164" y="706" width="9" height="21.0" fill="#ffcdd2"/>
<rect x="174" y="706" width="9" height="21.0" fill="#ffcdd2"/>
<rect x="184" y="706" width="9" height="21.0" fill="#ffcdd2"/>
<rect x="194" y="706" width="10" height="21.0" fill="#ef5350"/>
<rect x="205" y="706" width="9" height="21.0" fill="#ffcdd2"/>
<rect x="215" y="706" width="9" height="18.0" fill="#ffcdd2"/>
<rect x="225" y="706" width="9" height="11.0" fill="#ffcdd2"/>
<rect x="235" y="706" width="9" height="8.0" fill="#ffcdd2"/>
<rect x="245" y="706" width="9" height="3.0" fill="#ffcdd2"/>
<rect x="255" y="703.0" width="10" height="4.0" fill="#26a69a"/>
<rect x="266" y="701.0" width="9" height="6.0" fill="#26a69a"/>
<rect x="276" y="699.0" width="9" height="8.0" fill="#26a69a"/>
<rect x="286" y="700.0" width="9" height="7.0" fill="#b2dfdb"/>
<rect x="296" y="700.0" width="9" height="7.0" fill="#26a69a"/>
<rect x="306" y="699.0" width="10" height="8.0" fill="#26a69a"/>
<rect x="317" y="698.0" width="9" height="9.0" fill="#26a69a"/>
<rect x="327" y="697.0" width="9" height="10.0" fill="#26a69a"/>
<rect x="337" y="700.0" width="9" height="7.0" fill="#b2dfdb"/>
<rect x="347" y="706" width="9" height="2.0" fill="#ef5350"/>
<rect x="357" y="706" width="9" height="6.0" fill="#ef5350"/>
<rect x="367" y="706" width="10" height="10.0" fill="#ef5350"/>
<rect x="378" y="706" width="9" height="12.0" fill="#ef5350"/>
<rect x="388" y="706" width="9" height="10.0" fill="#ffcdd2"/>
<rect x="398" y="706" width="9" height="8.5" fill="#ffcdd2"/>
<rect x="408" y="706" width="9" height="6.0" fill="#ffcdd2"/>
<rect x="418" y="706" width="10" height="5.0" fill="#ffcdd2"/>
<rect x="429" y="706" width="9" height="4.0" fill="#ffcdd2"/>
<rect x="439" y="706" width="9" height="2.0" fill="#ffcdd2"/>
<rect x="449" y="705.0" width="9" height="2.0" fill="#26a69a"/>
<rect x="459" y="703.0" width="9" height="4.0" fill="#26a69a"/>
<rect x="469" y="701.0" width="9" height="6.0" fill="#26a69a"/>
<rect x="479" y="699.0" width="10" height="8.0" fill="#26a69a"/>
<rect x="490" y="698.0" width="9" height="9.0" fill="#26a69a"/>
<rect x="500" y="697.0" width="9" height="10.0" fill="#26a69a"/>
<rect x="510" y="695.0" width="9" height="12.0" fill="#26a69a"/>
<rect x="520" y="695.0" width="9" height="12.0" fill="#26a69a"/>
<rect x="530" y="694.0" width="10" height="13.0" fill="#26a69a"/>
<rect x="541" y="691.0" width="9" height="16.0" fill="#26a69a"/>
<rect x="551" y="690.0" width="9" height="17.0" fill="#26a69a"/>
<rect x="561" y="689.0" width="9" height="18.0" fill="#26a69a"/>
<rect x="571" y="691.0" width="9" height="16.0" fill="#b2dfdb"/>
<rect x="581" y="691.0" width="9" height="16.0" fill="#b2dfdb"/>
<rect x="591" y="690.0" width="10" height="17.0" fill="#26a69a"/>
<rect x="602" y="688.0" width="9" height="19.0" fill="#26a69a"/>
<rect x="612" y="687.0" width="9" height="20.0" fill="#26a69a"/>
<rect x="622" y="687.0" width="9" height="20.0" fill="#26a69a"/>
<rect x="632" y="689.0" width="9" height="18.0" fill="#b2dfdb"/>
<rect x="642" y="690.0" width="10" height="17.0" fill="#b2dfdb"/>
<rect x="653" y="687.0" width="9" height="20.0" fill="#26a69a"/>
<rect x="663" y="689.0" width="9" height="18.0" fill="#b2dfdb"/>
<rect x="673" y="691.0" width="9" height="16.0" fill="#b2dfdb"/>
<rect x="683" y="696.0" width="9" height="11.0" fill="#b2dfdb"/>
<rect x="693" y="700.0" width="10" height="7.0" fill="#b2dfdb"/>
<rect x="704" y="703.0" width="9" height="4.0" fill="#b2dfdb"/>
<rect x="714" y="705.0" width="9" height="2.0" fill="#b2dfdb"/>
<rect x="724" y="705.5" width="9" height="1.5" fill="#b2dfdb"/>
<rect x="734" y="706.0" width="9" height="1.0" fill="#b2dfdb"/>
<rect x="744" y="706" width="9" height="3.0" fill="#ef5350"/>
<rect x="754" y="706" width="10" height="6.0" fill="#ef5350"/>
<rect x="765" y="706" width="9" height="6.0" fill="#ef5350"/>
<rect x="775" y="706" width="9" height="7.0" fill="#ef5350"/>
<rect x="785" y="706" width="9" height="7.0" fill="#ef5350"/>
<rect x="795" y="706" width="9" height="10.0" fill="#ef5350"/>
<rect x="805" y="706" width="10" height="12.0" fill="#ef5350"/>
<rect x="816" y="706" width="9" height="13.0" fill="#ef5350"/>
<rect x="826" y="706" width="9" height="12.0" fill="#ffcdd2"/>
<rect x="836" y="706" width="9" height="8.0" fill="#ffcdd2"/>
<rect x="846" y="706" width="9" height="7.0" fill="#ffcdd2"/>
<rect x="856" y="706" width="9" height="6.0" fill="#ffcdd2"/>
<rect x="866" y="706" width="10" height="5.0" fill="#ffcdd2"/>
<rect x="877" y="706" width="9" height="7.0" fill="#ef5350"/>
<rect x="887" y="706" width="9" height="6.0" fill="#ffcdd2"/>
<rect x="897" y="706" width="9" height="5.0" fill="#ffcdd2"/>
<rect x="907" y="706" width="9" height="5.0" fill="#ffcdd2"/>
<rect x="917" y="706" width="10" height="5.0" fill="#ef5350"/>
<rect x="928" y="706" width="9" height="5.0" fill="#ffcdd2"/>
<rect x="938" y="706" width="9" height="3.0" fill="#ffcdd2"/>
<rect x="948" y="705.5" width="9" height="1.5" fill="#26a69a"/>
<rect x="958" y="703.0" width="9" height="4.0" fill="#26a69a"/>
<rect x="968" y="702.0" width="9" height="5.0" fill="#26a69a"/>
<rect x="978" y="699.0" width="10" height="8.0" fill="#26a69a"/>
<rect x="989" y="695.0" width="9" height="12.0" fill="#26a69a"/>
<rect x="999" y="693.0" width="9" height="14.0" fill="#26a69a"/>
<rect x="1009" y="693.0" width="9" height="14.0" fill="#26a69a"/>
<rect x="1019" y="697.0" width="9" height="10.0" fill="#b2dfdb"/>
<rect x="1029" y="702.0" width="10" height="5.0" fill="#b2dfdb"/>
<rect x="1040" y="706" width="9" height="4.0" fill="#ef5350"/>
<rect x="1050" y="706" width="9" height="6.0" fill="#ef5350"/>
<rect x="1060" y="706" width="9" height="7.0" fill="#ef5350"/>
<rect x="1070" y="706" width="9" height="6.0" fill="#ffcdd2"/>
<rect x="1080" y="706" width="10" height="5.0" fill="#ffcdd2"/>
<rect x="1091" y="706" width="9" height="4.0" fill="#ffcdd2"/>
<rect x="1101" y="706" width="9" height="2.0" fill="#ffcdd2"/>
<rect x="1111" y="705.0" width="9" height="2.0" fill="#26a69a"/>
<rect x="1121" y="705.0" width="9" height="2.0" fill="#26a69a"/>
<rect x="1131" y="703.0" width="9" height="4.0" fill="#26a69a"/>
<rect x="1141" y="703.0" width="10" height="4.0" fill="#b2dfdb"/>
<rect x="1152" y="703.0" width="9" height="4.0" fill="#26a69a"/>
<rect x="1162" y="702.0" width="9" height="5.0" fill="#26a69a"/>
<rect x="1172" y="702.0" width="9" height="5.0" fill="#b2dfdb"/>
<rect x="1182" y="703.0" width="9" height="4.0" fill="#b2dfdb"/>
<rect x="1192" y="703.0" width="10" height="4.0" fill="#b2dfdb"/>
<rect x="1203" y="704.0" width="9" height="3.0" fill="#b2dfdb"/>
<rect x="1213" y="704.0" width="9" height="3.0" fill="#26a69a"/>
<rect x="1223" y="703.0" width="9" height="4.0" fill="#26a69a"/>
<rect x="1233" y="701.0" width="9" height="6.0" fill="#26a69a"/>
<rect x="1243" y="699.0" width="9" height="8.0" fill="#26a69a"/>
<rect x="1253" y="697.0" width="10" height="10.0" fill="#26a69a"/>
<rect x="1264" y="697.0" width="9" height="10.0" fill="#26a69a"/>
<rect x="1274" y="697.0" width="9" height="10.0" fill="#b2dfdb"/>
<rect x="1284" y="697.0" width="9" height="10.0" fill="#26a69a"/>
<rect x="1294" y="700.0" width="9" height="7.0" fill="#b2dfdb"/>
<rect x="1304" y="702.0" width="10" height="5.0" fill="#b2dfdb"/>
<rect x="1315" y="702.0" width="9" height="5.0" fill="#b2dfdb"/>
<rect x="1325" y="701.0" width="9" height="6.0" fill="#26a69a"/>
<rect x="1335" y="701.0" width="9" height="6.0" fill="#26a69a"/>
</g>
<polyline points="7.5,643.75 16,663 25.75,674.5 36,669 46,668 56,672 66,681 76,690.75 86.75,706 96,716 102.5,725.75 110,740" fill="none" stroke="#2196f3" stroke-width="3" stroke-linejoin="round" stroke-linecap="round"/>
<polyline points="570,730 578.75,726.25 595,720 610,711.25 625,702.5 635,700.75 646.25,697 657.5,689.5 667.5,690 677.5,686.25 687.5,688.25 697.5,690.25 708.75,693.25 717.5,693.75 727.5,693 737.5,694.25 747.5,697 757.5,700.75 768.75,703 778.75,705 790,707 800,712.5 810,716.75 820,720 830,722.5 840,723.5 850,723.25 860,722.5 871.25,722.5 880,724.5 900,725.75 920,726.25 935,726 950,724.5 960,721.75 972.5,718.5 982.5,714.25 992.5,707.5 1002.5,701.75 1013.75,699 1023.75,700.75 1033.75,704.5 1045,711.5 1055,716.75 1065,719.5 1075,719.75 1085,719 1095,717.5 1105,715.25 1115,713.5 1125,712.75 1135,711 1145,710 1155,708.5 1165,707.25 1175,706.5 1185,705.75 1195,705.5 1205,705.25 1215,704.25 1227.5,703 1237.5,700 1247.5,696.25 1257.5,692 1267.5,689 1277.5,686.75 1288,684.2 1298.5,686 1309,686.4 1319,685.2 1329,683.8 1339.5,682.7" fill="none" stroke="#2196f3" stroke-width="3" stroke-linejoin="round" stroke-linecap="round"/>
<polyline points="55,640 58.75,643 77.5,657.5 97.5,677.5 112.5,693.75 125,708.75 141,725.75 150,736" fill="none" stroke="#f44336" stroke-width="3" stroke-linejoin="round" stroke-linecap="round"/>
<polyline points="607,730 616.25,726.25 632.5,720 647.5,713.75 662.5,707.5 677.5,701.25 692.5,697.5 707.5,695.5 722.5,694.5 737.5,694.5 752.5,696 767.5,697.75 785,700.75 800,704.25 815,708 830,712.5 845,715.25 860,717 870,717.5 885,720.25 900,722 915,723.5 930,725 945,725.25 960,724.5 975,722.75 990,718.75 1002.5,715 1015,711.5 1027.5,709 1040,708.5 1052.5,710 1067.5,712.5 1082.5,714.25 1097.5,715 1112.5,714.75 1127.5,714 1145,712.75 1160,711.25 1175,709.75 1190,708.5 1205,707.5 1220,706.5 1232.5,705 1245,702.75 1257.5,700 1270,697 1285,693.75 1298,692.2 1309,690.8 1319,689.4 1329,688.3 1339.5,687.2" fill="none" stroke="#f44336" stroke-width="3" stroke-linejoin="round" stroke-linecap="round"/>
</g>
<g clip-path="url(#cr)">
<polyline points="7.5,759.25 15.5,759.25 25.75,755.75 36.25,749.25 46.25,750.75 56.25,753 66.25,755.75 76.25,756.25 86.75,760 96.75,760 107.5,762.5 117.5,764.25 127.5,764.5 137.5,763.5 147.5,762.25 158,763.5 168,763 178.25,761.5 188.25,764.25 198.75,767.5 208.75,766.25 219.25,766.75 229.25,761 239.5,763 249.5,760.5 260,759.25 270,760.25 280,760.75 290.5,763.25 300.5,761.75 310.75,762.25 321.25,759.75 331.25,761 341.5,765 351.75,770.75 361.75,771 372.5,773 382,774.5 392.5,768.75 402.5,769.5 412.5,767.25 423,769.75 433,769.5 443.75,768.25 453.75,769.25 464.25,765.75 473.75,766.5 484.25,766.5 494.25,765.5 504.25,764.75 514.25,763.25 524.5,763.25 535,761.25 545,753.25 555.5,755.25 565.5,754 575.5,756.75 585.75,753.25 596.25,750 606.25,743.25 616.25,742.5 626.75,741.25 637,749 647,742.5 657.5,736 667.5,750.25 677.5,744.25 688,752.5 698,753.25 708.25,755 718.75,751.75 728.75,750 738.75,752 749.25,755.25 759.25,758.75 769.5,756.25 779.5,756.5 790,758 800,764.25 810,765 820,765.75 830.5,763.75 840.5,761.75 850.75,759.25 860.75,759 871.25,760 881.25,766.75 891.25,762.5 901.25,762.25 911.25,764 921.75,765.75 932,766.25 942.5,761.25 952.5,756.5 962.5,752.25 973,753.5 983,746.5 993,740 1003.25,739.75 1013.25,741.75 1023.75,755.5 1033.75,760.5 1044.5,767.5 1054.5,767.5 1064.5,763.75 1075,758 1085,757.75 1095,755.5 1105.5,753.25 1115.5,752.75 1125.5,755.5 1135.75,750.75 1146.25,754.5 1156.25,751.25 1166.25,750 1176.25,751 1186.75,752 1197,753 1207,752.75 1217.5,748 1227.5,748.25 1237.5,741.75 1248,737.25 1258,733.25 1268.25,735.25 1278.25,735.5 1288.75,732.2 1298.75,748.5 1309.25,744.5 1319.5,740.5 1329.5,738.3 1339.5,737.5" fill="none" stroke="#8e1599" stroke-width="3" stroke-linejoin="round" stroke-linecap="round"/>
</g>
<g shape-rendering="crispEdges" fill="#474a56">
<rect x="6" y="43" width="1768" height="1"/><rect x="6" y="808" width="1768" height="1"/>
<rect x="6" y="43" width="1" height="766"/><rect x="1773" y="43" width="1" height="766"/>
<rect x="1713" y="44" width="1" height="764"/>
<rect x="7" y="643" width="1766" height="1"/><rect x="7" y="726" width="1766" height="1"/><rect x="7" y="779" width="1766" height="1"/>
<rect x="66" y="780" width="1" height="3"/>
<rect x="148" y="780" width="1" height="3"/>
<rect x="239" y="780" width="1" height="3"/>
<rect x="331" y="780" width="1" height="3"/>
<rect x="423" y="780" width="1" height="3"/>
<rect x="504" y="780" width="1" height="3"/>
<rect x="596" y="780" width="1" height="3"/>
<rect x="677" y="780" width="1" height="3"/>
<rect x="769" y="780" width="1" height="3"/>
<rect x="860" y="780" width="1" height="3"/>
<rect x="952" y="780" width="1" height="3"/>
<rect x="1034" y="780" width="1" height="3"/>
<rect x="1125" y="780" width="1" height="3"/>
<rect x="1217" y="780" width="1" height="3"/>
<rect x="1309" y="780" width="1" height="3"/>
<rect x="1390" y="780" width="1" height="3"/>
<rect x="1482" y="780" width="1" height="3"/>
<rect x="1563" y="780" width="1" height="3"/>
<rect x="1655" y="780" width="1" height="3"/>
</g>
<text x="66.5" y="798.7" font-size="12" fill="#50535e" stroke="#50535e" stroke-width="0.3" textLength="17.5" lengthAdjust="spacingAndGlyphs" text-anchor="middle">Mai</text>
<text x="148.5" y="798.7" font-size="12" fill="#50535e" stroke="#50535e" stroke-width="0.3" textLength="15.2" lengthAdjust="spacingAndGlyphs" text-anchor="middle">Jul</text>
<text x="239.5" y="798.7" font-size="12" fill="#50535e" stroke="#50535e" stroke-width="0.3" textLength="18.2" lengthAdjust="spacingAndGlyphs" text-anchor="middle">Sep</text>
<text x="331.5" y="798.7" font-size="12" fill="#50535e" stroke="#50535e" stroke-width="0.3" textLength="19.3" lengthAdjust="spacingAndGlyphs" text-anchor="middle">Nov</text>
<text x="423.5" y="798.7" font-size="12" fill="#50535e" font-weight="bold" textLength="27" lengthAdjust="spacingAndGlyphs" text-anchor="middle">2019</text>
<text x="504.5" y="798.7" font-size="12" fill="#50535e" stroke="#50535e" stroke-width="0.3" textLength="19" lengthAdjust="spacingAndGlyphs" text-anchor="middle">Mrz</text>
<text x="596.5" y="798.7" font-size="12" fill="#50535e" stroke="#50535e" stroke-width="0.3" textLength="17.5" lengthAdjust="spacingAndGlyphs" text-anchor="middle">Mai</text>
<text x="677.5" y="798.7" font-size="12" fill="#50535e" stroke="#50535e" stroke-width="0.3" textLength="15.2" lengthAdjust="spacingAndGlyphs" text-anchor="middle">Jul</text>
<text x="769.5" y="798.7" font-size="12" fill="#50535e" stroke="#50535e" stroke-width="0.3" textLength="18.2" lengthAdjust="spacingAndGlyphs" text-anchor="middle">Sep</text>
<text x="860.5" y="798.7" font-size="12" fill="#50535e" stroke="#50535e" stroke-width="0.3" textLength="19.3" lengthAdjust="spacingAndGlyphs" text-anchor="middle">Nov</text>
<text x="952.5" y="798.7" font-size="12" fill="#50535e" font-weight="bold" textLength="27" lengthAdjust="spacingAndGlyphs" text-anchor="middle">2020</text>
<text x="1034.5" y="798.7" font-size="12" fill="#50535e" stroke="#50535e" stroke-width="0.3" textLength="19" lengthAdjust="spacingAndGlyphs" text-anchor="middle">Mrz</text>
<text x="1125.5" y="798.7" font-size="12" fill="#50535e" stroke="#50535e" stroke-width="0.3" textLength="17.5" lengthAdjust="spacingAndGlyphs" text-anchor="middle">Mai</text>
<text x="1217.5" y="798.7" font-size="12" fill="#50535e" stroke="#50535e" stroke-width="0.3" textLength="15.2" lengthAdjust="spacingAndGlyphs" text-anchor="middle">Jul</text>
<text x="1309.5" y="798.7" font-size="12" fill="#50535e" stroke="#50535e" stroke-width="0.3" textLength="18.2" lengthAdjust="spacingAndGlyphs" text-anchor="middle">Sep</text>
<text x="1390.5" y="798.7" font-size="12" fill="#50535e" stroke="#50535e" stroke-width="0.3" textLength="19.3" lengthAdjust="spacingAndGlyphs" text-anchor="middle">Nov</text>
<text x="1482.5" y="798.7" font-size="12" fill="#50535e" font-weight="bold" textLength="27" lengthAdjust="spacingAndGlyphs" text-anchor="middle">2021</text>
<text x="1563.5" y="798.7" font-size="12" fill="#50535e" stroke="#50535e" stroke-width="0.3" textLength="19" lengthAdjust="spacingAndGlyphs" text-anchor="middle">Mrz</text>
<text x="1655.5" y="798.7" font-size="12" fill="#50535e" stroke="#50535e" stroke-width="0.3" textLength="17.5" lengthAdjust="spacingAndGlyphs" text-anchor="middle">Mai</text>
<g clip-path="url(#ca)">
<rect x="1714" y="45" width="4" height="1" fill="#474a56" shape-rendering="crispEdges"/>
<text x="1722.2" y="49.599999999999994" font-size="12" fill="#50535e" stroke="#50535e" stroke-width="0.3" textLength="41.7" lengthAdjust="spacingAndGlyphs">400.000</text>
<rect x="1714" y="78" width="4" height="1" fill="#474a56" shape-rendering="crispEdges"/>
<text x="1722.2" y="82.89999999999999" font-size="12" fill="#50535e" stroke="#50535e" stroke-width="0.3" textLength="41.7" lengthAdjust="spacingAndGlyphs">340.000</text>
<rect x="1714" y="117" width="4" height="1" fill="#474a56" shape-rendering="crispEdges"/>
<text x="1722.2" y="121.89999999999999" font-size="12" fill="#50535e" stroke="#50535e" stroke-width="0.3" textLength="41.7" lengthAdjust="spacingAndGlyphs">280.000</text>
<rect x="1714" y="148" width="4" height="1" fill="#474a56" shape-rendering="crispEdges"/>
<text x="1722.2" y="153.20000000000002" font-size="12" fill="#50535e" stroke="#50535e" stroke-width="0.3" textLength="41.7" lengthAdjust="spacingAndGlyphs">240.000</text>
<rect x="1714" y="185" width="4" height="1" fill="#474a56" shape-rendering="crispEdges"/>
<text x="1722.2" y="190.10000000000002" font-size="12" fill="#50535e" stroke="#50535e" stroke-width="0.3" textLength="41.7" lengthAdjust="spacingAndGlyphs">200.000</text>
<rect x="1714" y="217" width="4" height="1" fill="#474a56" shape-rendering="crispEdges"/>
<text x="1722.2" y="221.8" font-size="12" fill="#50535e" stroke="#50535e" stroke-width="0.3" textLength="41.7" lengthAdjust="spacingAndGlyphs">170.000</text>
<rect x="1714" y="256" width="4" height="1" fill="#474a56" shape-rendering="crispEdges"/>
<text x="1722.2" y="261.2" font-size="12" fill="#50535e" stroke="#50535e" stroke-width="0.3" textLength="41.7" lengthAdjust="spacingAndGlyphs">140.000</text>
<rect x="1714" y="390" width="4" height="1" fill="#474a56" shape-rendering="crispEdges"/>
<text x="1722.2" y="394.90000000000003" font-size="12" fill="#50535e" stroke="#50535e" stroke-width="0.3" textLength="35.5" lengthAdjust="spacingAndGlyphs">72.000</text>
<rect x="1714" y="427" width="4" height="1" fill="#474a56" shape-rendering="crispEdges"/>
<text x="1722.2" y="432.2" font-size="12" fill="#50535e" stroke="#50535e" stroke-width="0.3" textLength="35.5" lengthAdjust="spacingAndGlyphs">60.000</text>
<rect x="1714" y="463" width="4" height="1" fill="#474a56" shape-rendering="crispEdges"/>
<text x="1722.2" y="467.7" font-size="12" fill="#50535e" stroke="#50535e" stroke-width="0.3" textLength="35.5" lengthAdjust="spacingAndGlyphs">50.000</text>
<rect x="1714" y="498" width="4" height="1" fill="#474a56" shape-rendering="crispEdges"/>
<text x="1722.2" y="502.5" font-size="12" fill="#50535e" stroke="#50535e" stroke-width="0.3" textLength="35.5" lengthAdjust="spacingAndGlyphs">42.000</text>
<rect x="1714" y="529" width="4" height="1" fill="#474a56" shape-rendering="crispEdges"/>
<text x="1722.2" y="533.8" font-size="12" fill="#50535e" stroke="#50535e" stroke-width="0.3" textLength="35.5" lengthAdjust="spacingAndGlyphs">36.000</text>
<rect x="1714" y="560" width="4" height="1" fill="#474a56" shape-rendering="crispEdges"/>
<text x="1722.2" y="564.8" font-size="12" fill="#50535e" stroke="#50535e" stroke-width="0.3" textLength="35.5" lengthAdjust="spacingAndGlyphs">31.000</text>
<rect x="1714" y="594" width="4" height="1" fill="#474a56" shape-rendering="crispEdges"/>
<text x="1722.2" y="598.9" font-size="12" fill="#50535e" stroke="#50535e" stroke-width="0.3" textLength="35.5" lengthAdjust="spacingAndGlyphs">26.000</text>
<rect x="1714" y="628" width="4" height="1" fill="#474a56" shape-rendering="crispEdges"/>
<text x="1722.2" y="632.9" font-size="12" fill="#50535e" stroke="#50535e" stroke-width="0.3" textLength="35.5" lengthAdjust="spacingAndGlyphs">22.000</text>
<rect x="1727.5" y="51.5" width="31" height="18" rx="3" fill="#fff" stroke="#d9dadb"/>
<text x="1743" y="63.2" font-size="12" fill="#50535e" stroke="#50535e" stroke-width="0.3" textLength="20.5" lengthAdjust="spacingAndGlyphs" text-anchor="middle">USD</text>
<rect x="1713" y="225.4" width="60" height="18.0" fill="#000"/>
<rect x="1714" y="234" width="4" height="1" fill="#fff" shape-rendering="crispEdges"/>
<text x="1722.2" y="238.70000000000002" font-size="12" fill="#fff" stroke="#fff" stroke-width="0.3" textLength="41.7" lengthAdjust="spacingAndGlyphs">156.917</text>
<rect x="1713" y="275.6" width="60" height="18.0" fill="#000"/>
<rect x="1714" y="284" width="4" height="1" fill="#fff" shape-rendering="crispEdges"/>
<text x="1722.2" y="288.90000000000003" font-size="12" fill="#fff" stroke="#fff" stroke-width="0.3" textLength="41.7" lengthAdjust="spacingAndGlyphs">122.238</text>
<rect x="1713" y="316.4" width="53" height="18.100000000000023" fill="#4caf50"/>
<rect x="1714" y="325" width="4" height="1" fill="#fff" shape-rendering="crispEdges"/>
<text x="1722.2" y="329.75" font-size="12" fill="#fff" stroke="#fff" stroke-width="0.3" textLength="35.5" lengthAdjust="spacingAndGlyphs">99.473</text>
<rect x="1718" y="336.4" width="48" height="17.200000000000045" fill="#4caf50"/>
<text x="1722.2" y="349.3" font-size="12" fill="#fff" stroke="#fff" stroke-width="0.3" textLength="35" lengthAdjust="spacingAndGlyphs">4d 11h</text>
<rect x="1713" y="353.6" width="53" height="18.099999999999966" fill="#000"/>
<rect x="1714" y="362" width="4" height="1" fill="#fff" shape-rendering="crispEdges"/>
<text x="1722.2" y="366.95" font-size="12" fill="#fff" stroke="#fff" stroke-width="0.3" textLength="35.5" lengthAdjust="spacingAndGlyphs">94.305</text>
<rect x="1713" y="374.2" width="53" height="18.19999999999999" fill="#ff9800"/>
<rect x="1714" y="383" width="4" height="1" fill="#000" shape-rendering="crispEdges"/>
<text x="1722.2" y="387.59999999999997" font-size="12" fill="#000" stroke="#000" stroke-width="0.3" textLength="35.5" lengthAdjust="spacingAndGlyphs">74.728</text>
<rect x="1713" y="630.2" width="54" height="18.0" fill="#4caf50"/>
<rect x="1714" y="639" width="4" height="1" fill="#fff" shape-rendering="crispEdges"/>
<text x="1722.2" y="643.5" font-size="12" fill="#fff" stroke="#fff" stroke-width="0.3" textLength="35.5" lengthAdjust="spacingAndGlyphs">7.292K</text>
</g>
<g clip-path="url(#ca2)">
<rect x="1714" y="651" width="4" height="1" fill="#474a56" shape-rendering="crispEdges"/>
<text x="1722.2" y="655.6999999999999" font-size="12" fill="#50535e" stroke="#50535e" stroke-width="0.3" textLength="35.5" lengthAdjust="spacingAndGlyphs">20.000</text>
<rect x="1713" y="656.2" width="47" height="18.0" fill="#2196f3"/>
<rect x="1714" y="665" width="4" height="1" fill="#fff" shape-rendering="crispEdges"/>
<text x="1722.2" y="669.5" font-size="12" fill="#fff" stroke="#fff" stroke-width="0.3" textLength="28.4" lengthAdjust="spacingAndGlyphs">8.628</text>
<rect x="1713" y="674.2" width="47" height="18.699999999999932" fill="#f44336"/>
<rect x="1714" y="683" width="4" height="1" fill="#fff" shape-rendering="crispEdges"/>
<text x="1722.2" y="687.8499999999999" font-size="12" fill="#fff" stroke="#fff" stroke-width="0.3" textLength="28.4" lengthAdjust="spacingAndGlyphs">6.810</text>
<rect x="1713" y="693.3" width="47" height="17.0" fill="#26a69a"/>
<rect x="1714" y="701" width="4" height="1" fill="#fff" shape-rendering="crispEdges"/>
<text x="1722.2" y="706.0999999999999" font-size="12" fill="#fff" stroke="#fff" stroke-width="0.3" textLength="28.4" lengthAdjust="spacingAndGlyphs">1.818</text>
</g>
<rect x="1713" y="728.6" width="47" height="18.100000000000023" fill="#8e1599"/>
<rect x="1714" y="737" width="4" height="1" fill="#fff" shape-rendering="crispEdges"/>
<text x="1722.2" y="741.95" font-size="12" fill="#fff" stroke="#fff" stroke-width="0.3" textLength="29.6" lengthAdjust="spacingAndGlyphs">66.13</text>
<rect x="1714" y="763" width="4" height="1" fill="#474a56" shape-rendering="crispEdges"/>
<text x="1722.2" y="767.9" font-size="12" fill="#50535e" stroke="#50535e" stroke-width="0.3" textLength="30" lengthAdjust="spacingAndGlyphs">40.00</text>
<g>
<path d="M10.3 834c-2.6 0-4.5-1.9-4.5-4.3 0-2.3 1.8-4.2 4.1-4.3 .5-3.6 3.4-6.4 7-6.4 2.9 0 5.400 1.8 6.500 4.400 .7-.3 1.500-.5 2.300-.5 3.400 0 6.200 2.500 6.200 5.600 0 3.100-2.700 5.500-6 5.500z" fill="#2196f3"/>
<path d="M6.900 831.400L15.800 824.300L22.100 830.200L28 823.800" fill="none" stroke="#fff" stroke-width="0.9"/>
<circle cx="15.800" cy="824.300" r="1.500" fill="#fff"/><circle cx="22.100" cy="830.200" r="1.600" fill="#fff"/>
</g>
<text x="34" y="830.8" font-size="12.5" fill="#131722" stroke="#131722" stroke-width="0.25" textLength="70.5" lengthAdjust="spacingAndGlyphs">TradingView</text>
</svg>
</body></html>
